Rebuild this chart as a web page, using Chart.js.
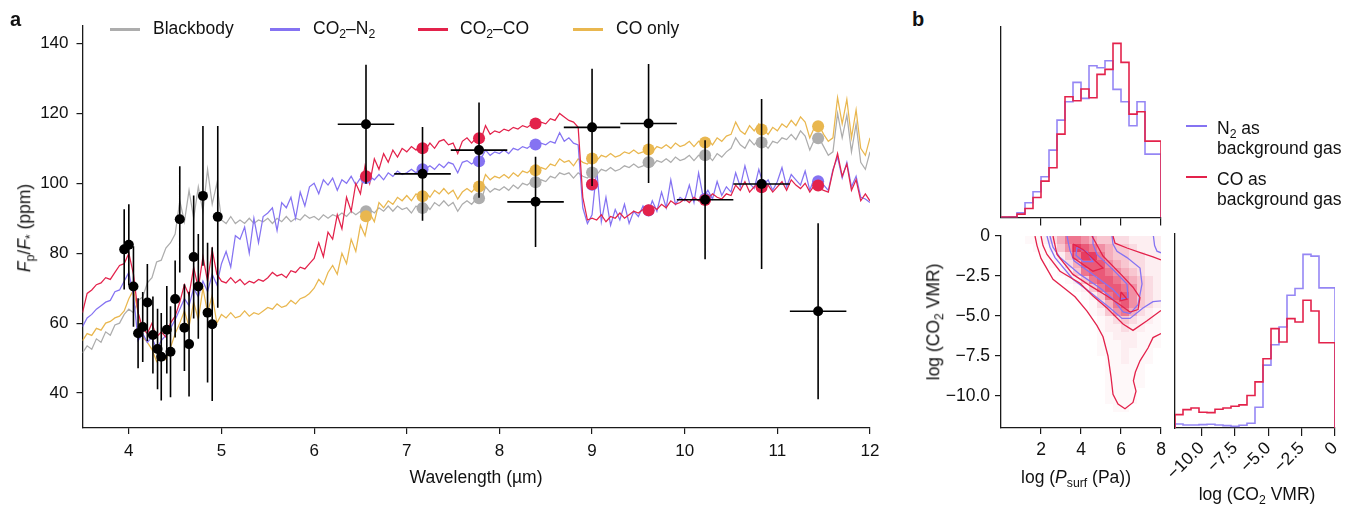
<!DOCTYPE html>
<html>
<head>
<meta charset="utf-8">
<script src="https://cdn.jsdelivr.net/npm/chart.js@4.4.1/dist/chart.umd.min.js"></script>
<style>
  body { margin: 0; width: 1355px; height: 507px; background: #fff; position: relative; overflow: hidden;
         font-family: "Liberation Sans", Arial, sans-serif; color: #111; }
  canvas { position: absolute; }
  .t { position: absolute; white-space: nowrap; font-size: 17.5px; line-height: 1; }
  .c { transform: translate(-50%, -50%); }
  .rot { transform: translate(-50%, -50%) rotate(-90deg); }
  .panel { font-weight: bold; font-size: 20px; }
  .sw { position: absolute; height: 3px; }
  sub { font-size: 0.7em; vertical-align: -0.3em; line-height: 0; }
</style>
</head>
<body>

<canvas id="specChart" width="890" height="507" style="left:0;top:0"></canvas>
<canvas id="psurfHist" width="200" height="240" style="left:980px;top:0"></canvas>
<canvas id="cornerChart" width="280" height="282" style="left:900px;top:225px"></canvas>
<canvas id="vmrHist" width="190" height="282" style="left:1165px;top:225px"></canvas>

<div class="t panel" style="left:10px;top:9px">a</div>
<div class="t panel" style="left:912px;top:9px">b</div>

<!-- legend, panel a -->
<div class="sw" style="left:110px;top:28px;width:30px;background:#adadad"></div>
<div class="t" style="left:153px;top:20px">Blackbody</div>
<div class="sw" style="left:270px;top:28px;width:30px;background:#8573f2"></div>
<div class="t" style="left:313px;top:20px">CO<sub>2</sub>–N<sub>2</sub></div>
<div class="sw" style="left:418px;top:28px;width:30px;background:#e3224b"></div>
<div class="t" style="left:460px;top:20px">CO<sub>2</sub>–CO</div>
<div class="sw" style="left:573px;top:28px;width:30px;background:#e9b74f"></div>
<div class="t" style="left:616px;top:20px">CO only</div>

<div class="t rot" style="left:25px;top:228px"><i>F</i><sub>p</sub>/<i>F</i><sub>*</sub> (ppm)</div>
<div class="t c" style="left:476px;top:478px">Wavelength (µm)</div>

<!-- legend, panel b -->
<div class="sw" style="left:1186px;top:125px;width:21px;height:2px;background:#8573f2"></div>
<div class="t" style="left:1217px;top:118px;line-height:20px">N<sub>2</sub> as<br>background gas</div>
<div class="sw" style="left:1186px;top:176px;width:21px;height:2px;background:#e3224b"></div>
<div class="t" style="left:1217px;top:169px;line-height:20px">CO as<br>background gas</div>

<div class="t rot" style="left:934px;top:322px">log (CO<sub>2</sub> VMR)</div>
<div class="t c" style="left:1076px;top:478px">log (<i>P</i><sub>surf</sub> (Pa))</div>
<div class="t c" style="left:1257px;top:495px">log (CO<sub>2</sub> VMR)</div>

<script>
// ========================================
// DATA
// ========================================

// model spectra (ppm) on a common wavelength grid (µm)
const wl = [
  3.5, 3.55, 3.6, 3.65, 3.7, 3.75, 3.8, 3.85, 3.9, 3.95,
  4, 4.05, 4.1, 4.15, 4.2, 4.25, 4.3, 4.35, 4.4, 4.45,
  4.5, 4.55, 4.6, 4.65, 4.7, 4.75, 4.8, 4.85, 4.9, 4.95,
  5, 5.05, 5.1, 5.15, 5.2, 5.25, 5.3, 5.35, 5.4, 5.45,
  5.5, 5.55, 5.6, 5.65, 5.7, 5.75, 5.8, 5.85, 5.9, 5.95,
  6, 6.05, 6.1, 6.15, 6.2, 6.25, 6.3, 6.35, 6.4, 6.45,
  6.5, 6.55, 6.6, 6.65, 6.7, 6.75, 6.8, 6.85, 6.9, 6.95,
  7, 7.05, 7.1, 7.15, 7.2, 7.25, 7.3, 7.35, 7.4, 7.45,
  7.5, 7.55, 7.6, 7.65, 7.7, 7.75, 7.8, 7.85, 7.9, 7.95,
  8, 8.05, 8.1, 8.15, 8.2, 8.25, 8.3, 8.35, 8.4, 8.45,
  8.5, 8.55, 8.6, 8.65, 8.7, 8.75, 8.8, 8.85, 8.9, 8.95,
  9, 9.05, 9.1, 9.15, 9.2, 9.25, 9.3, 9.35, 9.4, 9.45,
  9.5, 9.55, 9.6, 9.65, 9.7, 9.75, 9.8, 9.85, 9.9, 9.95,
  10, 10.05, 10.1, 10.15, 10.2, 10.25, 10.3, 10.35, 10.4, 10.45,
  10.5, 10.55, 10.6, 10.65, 10.7, 10.75, 10.8, 10.85, 10.9, 10.95,
  11, 11.05, 11.1, 11.15, 11.2, 11.25, 11.3, 11.35, 11.4, 11.45,
  11.5, 11.55, 11.6, 11.65, 11.7, 11.75, 11.8, 11.85, 11.9, 11.95, 12
];

const blackbody = [
  51.5, 53.5, 52.5, 55.5, 54.5, 57.5, 56.5, 59.5, 60, 62.5,
  64, 63, 66.5, 67.5, 71.5, 73, 77.5, 78, 81.5, 83,
  85.5, 95, 89, 98, 90, 99, 92, 104, 94, 100,
  89.5, 88.5, 90.5, 88.5, 89.5, 88.5, 90, 88.5, 89.5, 89,
  90, 88.5, 90, 89, 90.5, 89, 90, 89.5, 91, 90,
  90.5, 89.5, 91, 90, 91, 90.5, 91.5, 90.5, 92, 91,
  92, 91, 92.5, 91.5, 93, 92, 93.5, 92, 93.5, 92.5,
  93, 91.5, 93.5, 92.5, 94, 92.5, 94.5, 93.5, 95, 93.5,
  94.5, 92, 94, 95, 94, 95.5, 95, 99, 97.5, 98.5,
  98, 99, 98, 99.5, 98.5, 100, 99.5, 100.5, 100, 101,
  100.5, 102, 101.5, 103, 102.5, 103, 101.5, 103, 102, 101.5,
  103, 102.5, 104, 103.5, 104.5, 103.5, 104, 105, 104.5, 105.5,
  104.5, 105, 106, 105, 106.5, 106, 107, 106, 107.5, 106.5,
  107, 108, 106.5, 108, 107.5, 108, 106.5, 108.5, 107.5, 109,
  110, 113, 111, 110, 112.5, 111, 112.5, 111.5, 110, 112,
  111.5, 113, 112.5, 114, 112.5, 115, 113.5, 109.5, 112.5, 113,
  110.5, 108, 109, 120, 113, 119.5, 109, 117, 106, 104, 109
];

const co2n2 = [
  59, 61.5, 62.5, 64, 65, 66, 66.5, 69, 69.5, 72,
  74.5, 68, 55, 57, 54.5, 56, 52.5, 55, 56.5, 58.5,
  61, 64, 67, 65, 70, 67.5, 72, 69, 74, 71,
  77, 80.5, 76, 85, 84, 87.5, 80, 90, 83, 90.5,
  91.5, 93, 86.5, 94.5, 93, 96, 90, 97.5, 93.5, 99,
  100, 97, 101, 99.5, 101.5, 98, 101, 100, 102, 99.5,
  101.5, 100.5, 102, 101, 102.5, 101, 103, 102, 103.5, 102.5,
  103, 104, 103, 104.5, 104, 105, 104, 105.5, 104.5, 106,
  105.5, 103, 106, 106.5, 105.5, 106.5, 107, 109.5, 108, 109,
  108.5, 109.5, 108.5, 110, 109.5, 110.5, 110, 111, 110.5, 111.5,
  111, 112, 111.5, 114.5, 112, 113, 111.5, 111, 93, 88.5,
  91, 104, 89, 96, 88, 92.5, 89.5, 94, 88.5, 92,
  90.5, 93.5, 91, 95, 92, 97.5, 93, 101, 94, 96,
  95, 99.5, 94.5, 103, 96, 98, 95.5, 100.5, 96.5, 99,
  97.5, 103, 99, 105, 100, 98.5, 104, 99.5, 101, 98,
  100.5, 104.5, 99, 102.5, 101, 99.5, 103.5, 98, 101.5, 100,
  99.5, 98, 104, 107.5, 101.5, 106, 99, 102, 96, 95.5, 94.5
];

const co2co = [
  63, 68.5, 69.5, 71, 71.5, 73, 72.5, 74.5, 76.5, 77,
  80, 74, 63, 58.5, 57, 60, 56, 57.5, 56, 60,
  62, 66, 71, 68, 76, 70, 79, 72, 81, 74,
  72, 71.5, 73, 71.5, 72.5, 71, 72, 71.5, 72.5, 72,
  73, 74.5, 73.5, 74, 73, 75, 74.5, 76, 75.5, 77,
  78.5, 83, 79, 86, 84, 91, 87, 96, 92, 100,
  97, 105, 100, 107, 104, 108.5, 106, 109.5, 107.5, 110,
  109, 110.5, 109.5, 111, 109.5, 111.5, 110, 112, 112.5, 111,
  111.5, 108.5, 112, 113, 111.5, 113, 112.5, 116.5, 114, 115,
  114.5, 115.5, 115, 116, 115.5, 116.5, 116, 117, 116.5, 117.5,
  117, 118.5, 118, 120, 119, 118, 117.5, 116, 96, 89.5,
  90, 89.5, 91, 89, 90.5, 90, 91.5, 90, 91, 92,
  91.5, 92.5, 92, 93.5, 92.5, 94, 93, 95, 94, 94.5,
  95.5, 94.5, 96, 95, 96.5, 95.5, 97, 96, 95.5, 97,
  96.5, 99.5, 98, 100.5, 97.5, 99, 100, 98, 99.5, 97.5,
  99, 100.5, 98, 101, 99.5, 98.5, 100, 97.5, 99.5, 98.5,
  98, 97.5, 103.5, 108.5, 102, 105.5, 98, 101, 95, 97, 95
];

const coOnly = [
  55, 57, 56.5, 58.5, 58, 60, 60.5, 61.5, 62, 63.5,
  67, 69.5, 63, 56, 54.5, 52.5, 49, 50.5, 49.5, 53,
  57, 60, 63.5, 59, 66, 61, 70, 63, 68, 60,
  62.5, 61.5, 63, 61.5, 62, 63.5, 62, 63, 62.5, 63.5,
  64.5, 64, 65.5, 64.5, 65, 66.5, 65.5, 67, 67.5, 68.5,
  70, 72.5, 71, 74.5, 76.5, 74, 80, 77, 84, 80.5,
  88, 85, 91.5, 89, 94.5, 93, 95, 94, 96, 95,
  96.5, 95, 97, 96, 97.5, 96, 98, 97, 98.5, 97,
  98, 95.5, 97.5, 98.5, 97.5, 99, 98.5, 102.5, 101, 102,
  101.5, 102.5, 101.5, 103, 102, 103.5, 103, 104, 103.5, 104.5,
  104, 105.5, 105, 107, 106, 106.5, 105, 107, 106, 105.5,
  107, 106.5, 108, 107.5, 108.5, 107.5, 108, 109, 108.5, 109.5,
  108.5, 109, 110, 109, 110.5, 110, 111, 110, 111.5, 110.5,
  111, 112, 110.5, 112, 111.5, 112.5, 111, 113, 112, 113.5,
  114, 117.5, 115, 114, 116.5, 115, 117, 115.5, 114, 116,
  115, 117, 116, 118, 116.5, 119, 117.5, 113, 116, 116.5,
  114, 112, 113, 124.5, 117, 124, 113, 121, 110, 108, 113
];

// models binned to the MIRI points
const binWl = [6.56, 7.17, 7.78, 8.39, 9.0, 9.61, 10.22, 10.83, 11.44];
const binBlackbody = [92, 92.9, 95.7, 100.3, 103.1, 106, 108, 111.7, 112.9];
const binCO2N2 = [101.5, 104, 106.3, 111.1, 99.6, 92.2, 95.6, 99.5, 100.6];
const binCO2CO = [102, 110, 112.9, 117.1, 99.7, 92.3, 95.2, 98.9, 99.4];
const binCOonly = [90.6, 96.3, 99.1, 103.7, 107.1, 109.7, 111.7, 115.4, 116.3];

// observed eclipse depths
const obsWl = [
  3.95, 4.0, 4.05, 4.1, 4.15, 4.2, 4.26, 4.31, 4.35, 4.41, 4.45, 4.5, 4.55, 4.6, 4.65,
  4.7, 4.75, 4.8, 4.85, 4.9, 4.96,
  6.56, 7.17, 7.78, 8.39, 9.0, 9.61, 10.22, 10.83, 11.44
];
const obsFlux = [
  81.1, 82.4, 70.5, 57.1, 58.9, 65.9, 56.6, 52.6, 50.4, 58.1, 51.8, 66.9, 89.7, 58.7, 54,
  78.9, 70.5, 96.4, 63, 59.7, 90.4,
  116.9, 102.7, 109.5, 94.7, 116, 117.1, 95.3, 99.8, 63.4
];
const obsErr = [
  11.5, 11.6, 11.5, 10, 10, 11, 11, 11.5, 12.5, 12.5, 13, 11, 15.2, 12.4, 15,
  17.6, 15, 20, 20, 22, 26,
  17, 13.4, 13.6, 12.9, 16.8, 17, 17, 24.3, 25.2
];
const obsWlErr = [
  0, 0, 0, 0, 0, 0, 0, 0, 0, 0, 0, 0, 0, 0, 0, 0, 0, 0, 0, 0, 0,
  0.305, 0.305, 0.305, 0.305, 0.305, 0.305, 0.305, 0.305, 0.305
];

const wlTicks = [4, 5, 6, 7, 8, 9, 10, 11, 12];
const fluxTicks = [40, 60, 80, 100, 120, 140];

// posterior histograms
const psurfEdges = [0, 0.4, 0.8, 1.2, 1.6, 2, 2.4, 2.8, 3.2, 3.6, 4, 4.4, 4.8, 5.2, 5.6, 6, 6.4, 6.8, 7.2, 7.6, 8];
const psurfN2 = [1, 1, 2, 14, 44, 77, 122, 202, 292, 347, 405, 357, 455, 449, 470, 384, 347, 275, 347, 190];
const psurfCO = [1, 1, 1, 10, 27, 60, 109, 149, 250, 362, 350, 385, 359, 429, 444, 522, 465, 310, 317, 229];

const vmrEdges = [-12, -11.4, -10.8, -10.2, -9.6, -9, -8.4, -7.8, -7.2, -6.6, -6, -5.4, -4.8, -4.2, -3.6, -3, -2.4, -1.8, -1.2, -0.6, 0];
const vmrN2 = [8, 12, 9, 9, 10, 11, 9, 7, 5, 8, 14, 62, 188, 249, 302, 397, 417, 519, 514, 419];
const vmrCO = [32, 40, 55, 60, 47, 46, 56, 60, 65, 69, 97, 138, 207, 297, 257, 327, 317, 382, 350, 255];

const psurfTicks = [2, 4, 6, 8];
const vmrTicks = [0, -2.5, -5, -7.5, -10];
const vmrHistTicks = [-10, -7.5, -5, -2.5, 0];

// joint density, CO background: one string per VMR row (0 to -12, 0.5 steps), one digit per psurf bin
const vmrRowEdges = [0, -0.5, -1, -1.5, -2, -2.5, -3, -3.5, -4, -4.5, -5, -5.5, -6, -6.5, -7, -7.5, -8, -8.5, -9, -9.5, -10, -10.5, -11, -11.5, -12];
const densityRows = [
  "00011235776544332222",
  "00001124698765443222",
  "00000112479975443322",
  "00000011358886543322",
  "00000001247887654322",
  "00000000124788765432",
  "00000000012478876432",
  "00000000001247886432",
  "00000000000135786432",
  "00000000000124675321",
  "00000000000012343221",
  "00000000000012232211",
  "00000000000011222111",
  "00000000000011122111",
  "00000000000011121110",
  "00000000000001121110",
  "00000000000001111100",
  "00000000000001111100",
  "00000000000001111100",
  "00000000000001111000",
  "00000000000001111000",
  "00000000000000110000",
  "00000000000000000000",
  "00000000000000000000"
];

// credible-region contours [log Psurf, log VMR]
const coContours = [
  [[1.7,0],[1.8,-0.6],[2.0,-1.4],[2.6,-2.7],[3.2,-3.3],[3.7,-3.8],[4.3,-4.7],[4.8,-5.6],[5.1,-6.3],[5.35,-7.5],[5.5,-8.8],[5.6,-9.9],[5.85,-10.5],[6.2,-10.8],[6.6,-10.4],[6.75,-9.7],[6.62,-9.05],[6.72,-8.5],[6.95,-7.8],[7.35,-7.0],[7.6,-6.35],[8.0,-6.1]],
  [[2.0,0],[2.1,-0.6],[2.3,-1.15],[2.95,-2.2],[3.95,-2.95],[4.6,-3.75],[5.3,-4.5],[6.1,-5.5],[6.6,-5.9],[7.3,-5.3],[8.0,-4.65]],
  [[5.6,0],[5.7,-0.45],[6.3,-0.75],[7.0,-1.05],[7.6,-1.3],[8.0,-1.5]],
  [[2.6,0],[2.8,-1.15],[3.6,-2.4],[4.45,-3.1],[5.3,-3.75],[5.95,-4.3],[6.45,-4.75],[6.85,-4.6],[6.95,-3.85],[6.6,-3.2],[6.0,-2.4],[5.1,-1.25],[4.55,0]],
  [[3.6,-0.5],[4.1,-0.85],[5.1,-2.0],[4.6,-2.2],[3.6,-1.35],[3.6,-0.5]],
  [[6.0,-3.5],[6.3,-3.95],[5.95,-4.05],[6.0,-3.5]]
];
const n2Contours = [
  [[2.3,0],[2.45,-0.7],[2.7,-1.35],[3.6,-2.7],[4.6,-3.65],[5.45,-4.5],[6.05,-5.15],[6.45,-5.15],[7.1,-4.5],[7.6,-4.1],[8.0,-4.05]],
  [[7.62,0],[7.68,-0.6],[7.8,-0.95],[8.0,-1.05]],
  [[2.45,0],[2.6,-0.7],[2.95,-1.35],[3.95,-2.4],[4.95,-3.25],[5.6,-3.95],[6.1,-4.75],[6.45,-4.85],[6.85,-4.3],[7.05,-3.0],[6.95,-2.0],[6.3,-1.35],[5.8,-0.95],[5.6,-0.5],[5.55,0]],
  [[3.3,0],[3.45,-0.9],[3.65,-1.55],[4.8,-2.6],[5.6,-3.35],[6.05,-3.95],[6.35,-3.85],[6.3,-3.0],[5.6,-2.1],[4.8,-1.15],[4.6,-0.5],[4.6,0]],
  [[3.8,-0.7],[4.3,-1.0],[4.6,-1.6],[4.1,-1.6],[3.75,-1.2],[3.8,-0.7]]
];

// ========================================
// STYLE
// ========================================

const GRAY = "#adadad";
const PURPLE = "#8573f2";
const RED = "#e3224b";
const YELLOW = "#e9b74f";
const AXIS = "#1a1a1a";

Chart.defaults.font.family = '"Liberation Sans", Arial, sans-serif';
Chart.defaults.font.size = 17;
Chart.defaults.color = "#111";

const toXY = (xs, ys) => xs.map((x, i) => ({ x: x, y: ys[i] }));
const minus = (v) => (v === 0 ? "0" : "\u2212" + Math.abs(v).toFixed(1));

function axis(min, max, ticks, extra) {
  return Object.assign({
    type: "linear",
    min: min,
    max: max,
    afterBuildTicks: (s) => { s.ticks = ticks.map((v) => ({ value: v })); },
    ticks: { autoSkip: false, color: "#111" },
    grid: { drawOnChartArea: false, color: AXIS, lineWidth: 1.2, tickLength: 6 },
    border: { color: AXIS, width: 1.3 },
  }, extra);
}

// fixed axis boxes so the plot areas line up across canvases
const fixHeight = (h) => (s) => { s.height = h; s.paddingLeft = 0; s.paddingRight = 0; };
const fixWidth = (w) => (s) => { s.width = w; s.paddingTop = 0; s.paddingBottom = 0; };

const baseOptions = {
  responsive: false,
  animation: false,
  devicePixelRatio: 1,
  plugins: { legend: { display: false }, tooltip: { enabled: false } },
};

// ========================================
// PANEL A: SPECTRUM
// ========================================

const errorBars = {
  id: "errorBars",
  beforeDatasetDraw(chart, args) {
    if (args.index !== 0) return;
    const { ctx } = chart;
    const x = chart.scales.x, y = chart.scales.y;
    ctx.save();
    ctx.strokeStyle = "#000";
    ctx.lineWidth = 1.6;
    ctx.beginPath();
    obsWl.forEach((w, i) => {
      const px = x.getPixelForValue(w);
      const py = y.getPixelForValue(obsFlux[i]);
      ctx.moveTo(px, y.getPixelForValue(obsFlux[i] + obsErr[i]));
      ctx.lineTo(px, y.getPixelForValue(obsFlux[i] - obsErr[i]));
      if (obsWlErr[i] > 0) {
        ctx.moveTo(x.getPixelForValue(w - obsWlErr[i]), py);
        ctx.lineTo(x.getPixelForValue(w + obsWlErr[i]), py);
      }
    });
    ctx.stroke();
    ctx.restore();
  },
};

function spectrum(values, color, order) {
  return { data: toXY(wl, values), showLine: true, borderColor: color, borderWidth: 1.25,
           pointRadius: 0, order: order };
}
function binned(values, color) {
  return { data: toXY(binWl, values), showLine: false, pointRadius: 6, pointBorderWidth: 0,
           backgroundColor: color, order: 1 };
}

new Chart(document.getElementById("specChart"), {
  type: "scatter",
  data: {
    datasets: [
      { data: toXY(obsWl, obsFlux), pointRadius: 5, pointBorderWidth: 0, backgroundColor: "#000", order: 0 },
      binned(binCO2CO, RED),
      binned(binCO2N2, PURPLE),
      binned(binCOonly, YELLOW),
      binned(binBlackbody, GRAY),
      spectrum(co2co, RED, 2),
      spectrum(co2n2, PURPLE, 3),
      spectrum(coOnly, YELLOW, 4),
      spectrum(blackbody, GRAY, 5),
    ],
  },
  options: Object.assign({}, baseOptions, {
    layout: { padding: { left: 0, right: 20, top: 26, bottom: 0 } },
    scales: {
      x: axis(3.5, 12, wlTicks, { afterFit: fixHeight(79), ticks: { autoSkip: false, padding: 7, maxRotation: 0 } }),
      y: axis(30, 145, fluxTicks, { afterFit: fixWidth(82.5), ticks: { autoSkip: false, padding: 8 } }),
    },
  }),
  plugins: [errorBars],
});

// ========================================
// PANEL B: POSTERIORS
// ========================================

function steps(edges, heights) {
  const pts = [{ x: edges[0], y: 0 }];
  heights.forEach((h, i) => pts.push({ x: edges[i], y: h }));
  pts.push({ x: edges[edges.length - 1], y: heights[heights.length - 1] });
  pts.push({ x: edges[edges.length - 1], y: 0 });
  return pts;
}
function histLine(edges, heights, color) {
  return { data: steps(edges, heights), showLine: true, stepped: "after", borderColor: color,
           borderWidth: 1.6, pointRadius: 0 };
}

// log Psurf marginal
new Chart(document.getElementById("psurfHist"), {
  type: "scatter",
  data: { datasets: [histLine(psurfEdges, psurfCO, RED), histLine(psurfEdges, psurfN2, PURPLE + "dd")] },
  options: Object.assign({}, baseOptions, {
    layout: { padding: { left: 21, right: 19, top: 27, bottom: 0 } },
    scales: {
      x: axis(0, 8, psurfTicks, { afterFit: fixHeight(22.5), ticks: { display: false },
        grid: { drawOnChartArea: false, color: AXIS, lineWidth: 1.2, tickLength: 8 } }),
      y: axis(0, 571, [], { afterFit: fixWidth(0), ticks: { display: false },
        grid: { display: false } }),
    },
  }),
});

// joint density + contours
const densityCells = {
  id: "densityCells",
  beforeDatasetsDraw(chart) {
    const { ctx } = chart;
    const x = chart.scales.x, y = chart.scales.y;
    const alpha = [0, 0.03, 0.08, 0.16, 0.26, 0.37, 0.5, 0.62, 0.75, 0.88];
    ctx.save();
    densityRows.forEach((row, r) => {
      for (let c = 0; c < row.length; c++) {
        const lvl = Number(row[c]);
        if (!lvl) continue;
        const x0 = Math.round(x.getPixelForValue(psurfEdges[c]));
        const x1 = Math.round(x.getPixelForValue(psurfEdges[c + 1]));
        const y0 = Math.round(y.getPixelForValue(vmrRowEdges[r]));
        const y1 = Math.round(y.getPixelForValue(vmrRowEdges[r + 1]));
        ctx.fillStyle = "rgba(227, 34, 75, " + alpha[lvl] + ")";
        ctx.fillRect(x0, y0, x1 - x0, y1 - y0);
      }
    });
    ctx.restore();
  },
};

const contourSets = [];
coContours.forEach((c) => contourSets.push({ data: c.map((p) => ({ x: p[0], y: p[1] })), showLine: true,
  borderColor: RED, borderWidth: 1.3, pointRadius: 0 }));
n2Contours.forEach((c) => contourSets.push({ data: c.map((p) => ({ x: p[0], y: p[1] })), showLine: true,
  borderColor: PURPLE, borderWidth: 1.3, pointRadius: 0 }));

new Chart(document.getElementById("cornerChart"), {
  type: "scatter",
  data: { datasets: contourSets },
  options: Object.assign({}, baseOptions, {
    layout: { padding: { left: 0, right: 19, top: 11, bottom: 0 } },
    scales: {
      x: axis(0, 8, psurfTicks, { afterFit: fixHeight(79),
        ticks: { autoSkip: false, padding: 6, maxRotation: 0, font: { size: 17.5 } } }),
      y: axis(-12, 0, vmrTicks, { afterFit: fixWidth(101),
        ticks: { autoSkip: false, padding: 5, font: { size: 17.5 }, callback: (v) => minus(v) } }),
    },
  }),
  plugins: [densityCells],
});

// log VMR marginal
new Chart(document.getElementById("vmrHist"), {
  type: "scatter",
  data: { datasets: [histLine(vmrEdges, vmrCO, RED), histLine(vmrEdges, vmrN2, PURPLE + "dd")] },
  options: Object.assign({}, baseOptions, {
    layout: { padding: { left: 10, right: 20, top: 9, bottom: 0 } },
    scales: {
      x: axis(-12, 0, vmrHistTicks, { afterFit: fixHeight(79),
        ticks: { autoSkip: false, padding: 2, minRotation: 45, maxRotation: 45, font: { size: 17.5 },
                 callback: (v) => minus(v) },
        grid: { drawOnChartArea: false, color: AXIS, lineWidth: 1.2, tickLength: 8 } }),
      y: axis(0, 580, [], { afterFit: fixWidth(0), ticks: { display: false }, grid: { display: false } }),
    },
  }),
});
</script>
</body>
</html>
